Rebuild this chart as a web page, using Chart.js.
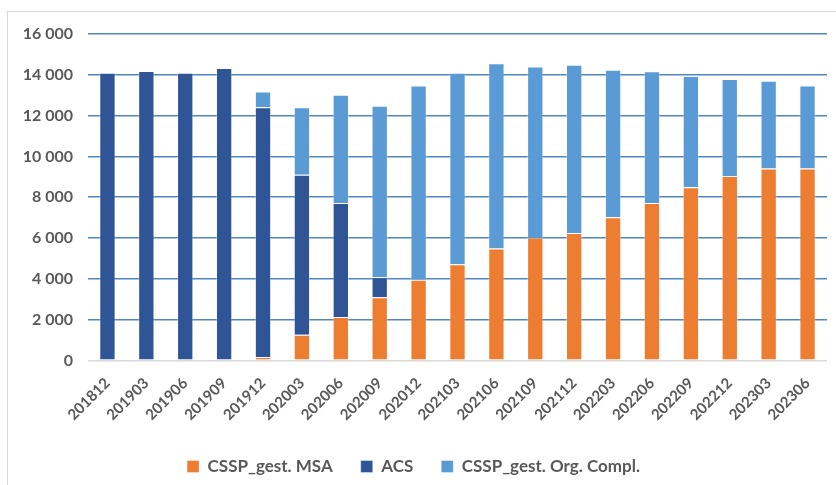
<!DOCTYPE html>
<html>
<head>
<meta charset="utf-8">
<script src="https://cdn.jsdelivr.net/npm/chart.js@4"></script>
<style>
  body { margin: 0; background: #fff; }
  #wrap { position: relative; width: 836px; height: 485px; }
  #frame { position: absolute; left: 7px; top: 11px; right: -2px; bottom: -2px; border: 1px solid #d9d9d9; }
  canvas { position: absolute; left: 0; top: 0; }
</style>
</head>
<body>
<div id="wrap">
  <div id="frame"></div>
  <canvas id="chart" width="836" height="485"></canvas>
</div>
<script>
// données
const periodes = ['201812','201903','201906','201909','201912','202003','202006','202009','202012','202103',
                  '202106','202109','202112','202203','202206','202209','202212','202303','202306'];
const msa   = [0, 0, 0, 0, 160, 1250, 2120, 3100, 3950, 4710, 5480, 6020, 6250, 7020, 7710, 8490, 9040, 9410, 9410];
const acs   = [14100, 14180, 14100, 14330, 12250, 7850, 5590, 980, 0, 0, 0, 0, 0, 0, 0, 0, 0, 0, 0];
const orgCompl = [0, 0, 0, 0, 770, 3310, 5310, 8400, 9530, 9390, 9080, 8390, 8240, 7230, 6460, 5450, 4750, 4300, 4070];
const yTicks = [0, 2000, 4000, 6000, 8000, 10000, 12000, 14000, 16000];

const fmt = v => v.toLocaleString('fr-FR').replace(/\s/g, ' ');
const gris = '#595959';
const police = 'Lato, "Open Sans", sans-serif';

const barOpts = { barPercentage: 0.42, categoryPercentage: 1, borderWidth: 1, borderColor: 'rgba(255,255,255,0.35)' };

new Chart(document.getElementById('chart'), {
  type: 'bar',
  data: {
    labels: periodes,
    datasets: [
      { label: 'CSSP_gest. MSA', data: msa, backgroundColor: '#ED7D31', ...barOpts },
      { label: 'ACS', data: acs, backgroundColor: '#2F5597', ...barOpts },
      { label: 'CSSP_gest. Org. Compl.', data: orgCompl, backgroundColor: '#5B9BD5', ...barOpts }
    ]
  },
  options: {
    responsive: false,
    animation: false,
    layout: { padding: { top: 34, right: 9, left: 0, bottom: 0 } },
    plugins: {
      tooltip: { enabled: false },
      legend: {
        position: 'bottom',
        labels: { boxWidth: 12, boxHeight: 12, padding: 28, color: gris, font: { family: police, size: 17, weight: 'bold' } }
      }
    },
    scales: {
      x: {
        stacked: true,
        grid: { display: false },
        border: { display: false },
        ticks: { minRotation: 45, maxRotation: 45, color: gris, padding: 6, font: { family: police, size: 15, weight: 'bold' } }
      },
      y: {
        stacked: true,
        min: 0, max: 16000,
        afterBuildTicks: s => { s.ticks = yTicks.map(v => ({ value: v })); },
        afterFit: s => { s.width = 88; },
        grid: {
          color: ctx => ctx.tick && ctx.tick.value === 0 ? '#d9d9d9' : '#4f86c0',
          lineWidth: 1.5,
          drawTicks: false
        },
        border: { display: false },
        ticks: { padding: 15, color: gris, font: { family: police, size: 16, weight: 'bold' }, callback: v => fmt(v) }
      }
    }
  }
});
</script>
</body>
</html>
